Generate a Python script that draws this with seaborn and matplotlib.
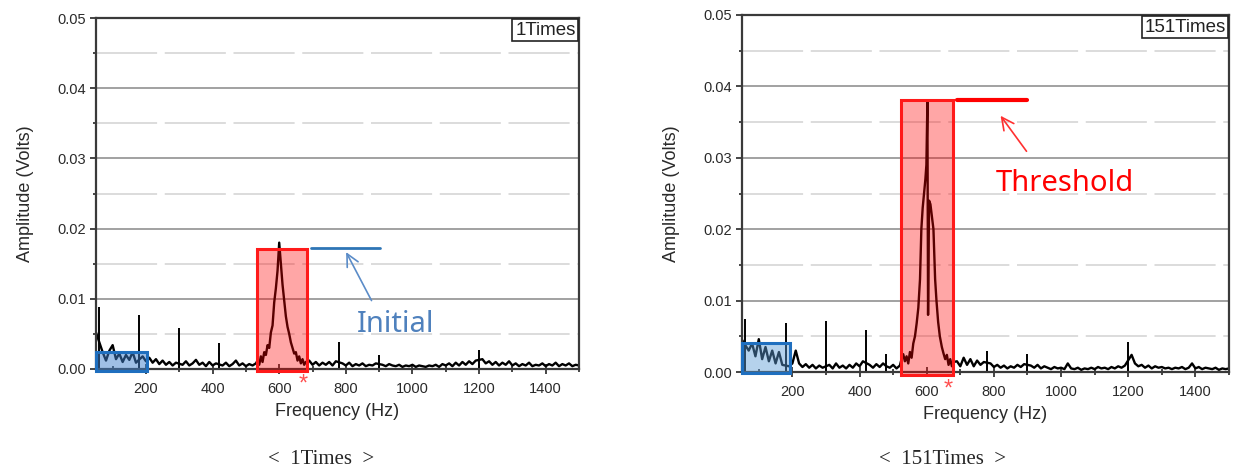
import pandas as pd
import seaborn as sns
import matplotlib.pyplot as plt
from matplotlib.patches import Rectangle
from matplotlib.ticker import MultipleLocator

# ---- data (Hz, Volts) ----
left_noise_freq = [50, 70, 80, 90, 100, 110, 120, 130, 140, 150, 160, 170, 190, 200, 210, 220, 230, 240,
                   250, 260, 270, 280, 290, 310, 320, 330, 340, 350, 360, 370, 380, 390, 400, 410, 430,
                   440, 450, 460, 470, 480, 490, 500, 510, 520,
                   690, 700, 710, 720, 730, 740, 750, 760, 770, 790, 800, 810, 820, 830, 840, 850, 860,
                   870, 880, 890, 910, 920, 930, 940, 950, 960, 970, 980, 990, 1000, 1010, 1020, 1030,
                   1040, 1050, 1060, 1070, 1080, 1090, 1100, 1110, 1120, 1130, 1140, 1150, 1160, 1170,
                   1180, 1190, 1210, 1220, 1230, 1240, 1250, 1260, 1270, 1280, 1290, 1300, 1310, 1320,
                   1330, 1340, 1350, 1360, 1370, 1380, 1390, 1400, 1410, 1420, 1430, 1440, 1450, 1460,
                   1470, 1480, 1490, 1500]
left_noise_amp = [0.0052, 0.0024, 0.0012, 0.0026, 0.0034, 0.0014, 0.0022, 0.0010, 0.0020, 0.0013, 0.0024,
                  0.0009, 0.0018, 0.0011, 0.0016, 0.0009, 0.0014, 0.0007, 0.0012, 0.0006, 0.0010, 0.0005,
                  0.0009, 0.0006, 0.0011, 0.0005, 0.0008, 0.0013, 0.0006, 0.0009, 0.0004, 0.0010, 0.0005,
                  0.0008, 0.0005, 0.0009, 0.0004, 0.0007, 0.0012, 0.0005, 0.0008, 0.0004, 0.0007, 0.0005,
                  0.0012, 0.0006, 0.0010, 0.0005, 0.0009, 0.0006, 0.0010, 0.0005, 0.0011, 0.0008, 0.0005,
                  0.0009, 0.0004, 0.0007, 0.0005, 0.0008, 0.0004, 0.0006, 0.0005, 0.0008, 0.0006, 0.0004,
                  0.0007, 0.0005, 0.0004, 0.0006, 0.0003, 0.0005, 0.0004, 0.0006, 0.0003, 0.0005, 0.0004,
                  0.0003, 0.0005, 0.0004, 0.0006, 0.0003, 0.0007, 0.0005, 0.0008, 0.0004, 0.0009, 0.0005,
                  0.0010, 0.0006, 0.0011, 0.0007, 0.0012, 0.0014, 0.0008, 0.0011, 0.0006, 0.0010, 0.0005,
                  0.0009, 0.0006, 0.0011, 0.0005, 0.0008, 0.0004, 0.0007, 0.0005, 0.0009, 0.0004, 0.0006,
                  0.0005, 0.0008, 0.0004, 0.0007, 0.0005, 0.0009, 0.0004, 0.0007, 0.0005, 0.0008, 0.0004,
                  0.0006, 0.0005]
left_peak_freq = [530, 535, 540, 545, 550, 555, 560, 565, 570, 575, 580, 585, 590, 595, 600, 605, 610,
                  615, 620, 625, 630, 635, 640, 645, 650, 655, 660, 665, 670, 675, 680]
left_peak_amp = [0.0008, 0.0012, 0.0006, 0.0018, 0.0010, 0.0024, 0.0020, 0.0034, 0.0030, 0.0052, 0.0062,
                 0.0095, 0.0115, 0.0140, 0.0180, 0.0150, 0.0120, 0.0098, 0.0075, 0.0060, 0.0050, 0.0038,
                 0.0030, 0.0022, 0.0024, 0.0012, 0.0018, 0.0008, 0.0014, 0.0006, 0.0010]
left_spike_freq = [60, 180, 300, 420, 780, 900, 1200]
left_spike_amp = [0.0088, 0.0077, 0.0058, 0.0037, 0.0038, 0.0020, 0.0027]

right_noise_freq = [50, 70, 80, 90, 100, 110, 120, 130, 140, 150, 160, 170, 190, 200, 210, 220, 230, 240,
                    250, 260, 270, 280, 290, 310, 320, 330, 340, 350, 360, 370, 380, 390, 400, 410, 430,
                    440, 450, 460, 470, 480, 490, 500, 510, 520,
                    690, 700, 710, 720, 730, 740, 750, 760, 770, 790, 800, 810, 820, 830, 840, 850, 860,
                    870, 880, 890, 910, 920, 930, 940, 950, 960, 970, 980, 990, 1000, 1010, 1020, 1030,
                    1040, 1050, 1060, 1070, 1080, 1090, 1100, 1110, 1120, 1130, 1140, 1150, 1160, 1170,
                    1180, 1190, 1210, 1220, 1230, 1240, 1250, 1260, 1270, 1280, 1290, 1300, 1310, 1320,
                    1330, 1340, 1350, 1360, 1370, 1380, 1390, 1400, 1410, 1420, 1430, 1440, 1450, 1460,
                    1470, 1480, 1490, 1500]
right_noise_amp = [0.0045, 0.0030, 0.0040, 0.0022, 0.0046, 0.0018, 0.0035, 0.0015, 0.0030, 0.0012, 0.0028,
                   0.0010, 0.0008, 0.0012, 0.0030, 0.0012, 0.0007, 0.0011, 0.0006, 0.0010, 0.0005, 0.0009,
                   0.0006, 0.0010, 0.0005, 0.0012, 0.0006, 0.0009, 0.0005, 0.0010, 0.0006, 0.0012, 0.0008,
                   0.0015, 0.0010, 0.0006, 0.0011, 0.0007, 0.0012, 0.0008, 0.0006, 0.0010, 0.0005, 0.0009,
                   0.0015, 0.0008, 0.0020, 0.0010, 0.0018, 0.0008, 0.0016, 0.0010, 0.0014, 0.0012, 0.0007,
                   0.0010, 0.0006, 0.0009, 0.0005, 0.0008, 0.0006, 0.0010, 0.0007, 0.0011, 0.0009, 0.0006,
                   0.0010, 0.0005, 0.0008, 0.0006, 0.0004, 0.0007, 0.0005, 0.0006, 0.0004, 0.0012, 0.0005,
                   0.0004, 0.0006, 0.0003, 0.0005, 0.0004, 0.0006, 0.0004, 0.0007, 0.0005, 0.0006, 0.0004,
                   0.0007, 0.0005, 0.0008, 0.0006, 0.0009, 0.0024, 0.0012, 0.0008, 0.0010, 0.0006, 0.0009,
                   0.0005, 0.0008, 0.0006, 0.0007, 0.0005, 0.0006, 0.0004, 0.0006, 0.0005, 0.0007, 0.0004,
                   0.0006, 0.0012, 0.0005, 0.0007, 0.0004, 0.0006, 0.0005, 0.0004, 0.0006, 0.0003, 0.0005,
                   0.0004, 0.0005]
right_peak_freq = [525, 530, 535, 540, 545, 550, 555, 560, 565, 570, 575, 580, 584, 588, 592, 596, 599,
                   602, 604, 607, 611, 615, 620, 625, 629, 634, 639, 645, 650, 655, 660, 665, 670, 675, 680]
right_peak_amp = [0.0018, 0.0025, 0.0015, 0.0022, 0.0012, 0.0028, 0.0020, 0.0040, 0.0050, 0.0068, 0.0090,
                  0.0130, 0.0200, 0.0230, 0.0250, 0.0270, 0.0290, 0.0378, 0.0080, 0.0240, 0.0235, 0.0220,
                  0.0200, 0.0130, 0.0100, 0.0070, 0.0050, 0.0035, 0.0026, 0.0018, 0.0024, 0.0010, 0.0018,
                  0.0008, 0.0014]
right_spike_freq = [60, 180, 300, 420, 480, 780, 900, 1200]
right_spike_amp = [0.0074, 0.0069, 0.0071, 0.0059, 0.0025, 0.0029, 0.0025, 0.0042]

x_ticks = [200, 400, 600, 800, 1000, 1200, 1400]
y_ticks = [0.00, 0.01, 0.02, 0.03, 0.04, 0.05]
captions = ["<  1Times  >", "<  151Times  >"]
tags = ["1Times", "151Times"]

sns.set_style("white")
plt.rcParams['font.family'] = ['Liberation Sans', 'DejaVu Sans']

fig = plt.figure(figsize=(12.36, 4.72), dpi=100)
ax1 = fig.add_axes([96 / 1236, 1 - 369 / 472, 483 / 1236, 351 / 472])
ax2 = fig.add_axes([742 / 1236, 1 - 372 / 472, 487 / 1236, 357 / 472])


def spectrum(ax, nf, na, pf, pa, sf, sa, tag):
    df = pd.DataFrame({"freq": nf + pf, "amp": na + pa}).sort_values("freq")
    sns.lineplot(data=df, x="freq", y="amp", color="black", lw=1.7, ax=ax,
                 estimator=None, sort=True, zorder=2)
    ax.vlines(sf, 0, sa, color="black", lw=1.4, zorder=2)

    ax.set_xlim(50, 1500)
    ax.set_ylim(0, 0.05)
    ax.set_xticks(x_ticks)
    ax.xaxis.set_minor_locator(MultipleLocator(100))
    ax.set_yticks(y_ticks)
    ax.set_yticklabels([f"{v:.2f}" for v in y_ticks])
    ax.yaxis.set_minor_locator(MultipleLocator(0.005))
    ax.grid(False)
    ax.grid(axis="y", which="major", color="#9a9a9a", lw=1.3, zorder=0)
    ax.grid(axis="y", which="minor", color="#d2d2d2", lw=1.1, ls=(0, (40, 5)), zorder=0)
    ax.tick_params(axis="x", which="major", direction="inout", length=7, width=1.2,
                   labelsize=10.5, labelcolor="#2a2a2a", pad=6)
    ax.tick_params(axis="x", which="minor", direction="inout", length=5, width=1.2)
    ax.tick_params(axis="y", which="major", direction="out", length=4, width=1.2,
                   labelsize=10.5, labelcolor="#2a2a2a", pad=3)
    ax.tick_params(axis="y", which="minor", direction="out", length=2, width=1.2)
    ax.tick_params(bottom=True, left=True, which="both")
    for s in ax.spines.values():
        s.set_color("#3a3a3a")
        s.set_linewidth(1.6)
    ax.set_xlabel("Frequency (Hz)", fontsize=13, color="#2a2a2a", labelpad=5)
    ax.set_ylabel("Amplitude (Volts)", fontsize=13, color="#2a2a2a", labelpad=17)
    ax.text(0.993, 0.99, tag, transform=ax.transAxes, ha="right", va="top", fontsize=13.5,
            color="#222222", bbox=dict(boxstyle="square,pad=0.15", fc="white", ec="#222222", lw=1.2))


spectrum(ax1, left_noise_freq, left_noise_amp, left_peak_freq, left_peak_amp,
         left_spike_freq, left_spike_amp, tags[0])
spectrum(ax2, right_noise_freq, right_noise_amp, right_peak_freq, right_peak_amp,
         right_spike_freq, right_spike_amp, tags[1])

# highlight boxes
ax1.add_patch(Rectangle((532, -0.0003), 151, 0.01744, fc=(1, 0, 0, 0.35), ec="#ff1a1a",
                        lw=2.2, zorder=3, clip_on=False))
ax1.add_patch(Rectangle((50, -0.0003), 153, 0.0027, fc=(0.25, 0.5, 0.8, 0.5), ec="#1f6fbf",
                        lw=2.2, zorder=3, clip_on=False))
ax2.add_patch(Rectangle((522, -0.0004), 156, 0.0385, fc=(1, 0, 0, 0.35), ec="#ff1a1a",
                        lw=2.2, zorder=3, clip_on=False))
ax2.add_patch(Rectangle((50, -0.0002), 144, 0.0043, fc=(0.36, 0.61, 0.84, 0.45), ec="#1f6fbf",
                        lw=2.2, zorder=3, clip_on=False))

# level markers and notes
ax1.plot([695, 902], [0.0173, 0.0173], color="#2e75b6", lw=2, zorder=4)
ax1.annotate("", xy=(797, 0.0170), xytext=(881, 0.0094),
             arrowprops=dict(arrowstyle="->", color="#5b8cc8", lw=1.2, mutation_scale=22))
ax1.text(833, 0.0063, "Initial", color="#4f81bd", fontsize=21, ha="left", va="center",
         family=["Noto Sans", "DejaVu Sans"])

ax2.plot([690, 899], [0.0381, 0.0381], color="red", lw=3, zorder=4)
ax2.annotate("", xy=(815, 0.0362), xytext=(902, 0.0306),
             arrowprops=dict(arrowstyle="->", color="#ff3030", lw=1.2, mutation_scale=22))
ax2.text(806, 0.0264, "Threshold", color="red", fontsize=21, ha="left", va="center",
         family=["Noto Sans", "DejaVu Sans"])

ax1.text(671, -0.0022, "*", color="#ff5050", fontsize=17, ha="center", va="center", clip_on=False)
ax2.text(663, -0.0024, "*", color="#ff5050", fontsize=17, ha="center", va="center", clip_on=False)

fig.text(321 / 1236, 1 - 459 / 472, captions[0], ha="center", va="center", fontsize=15,
         family=["Liberation Serif", "DejaVu Serif"])
fig.text(943 / 1236, 1 - 459 / 472, captions[1], ha="center", va="center", fontsize=15,
         family=["Liberation Serif", "DejaVu Serif"])

fig.savefig("out.png", dpi=100)
